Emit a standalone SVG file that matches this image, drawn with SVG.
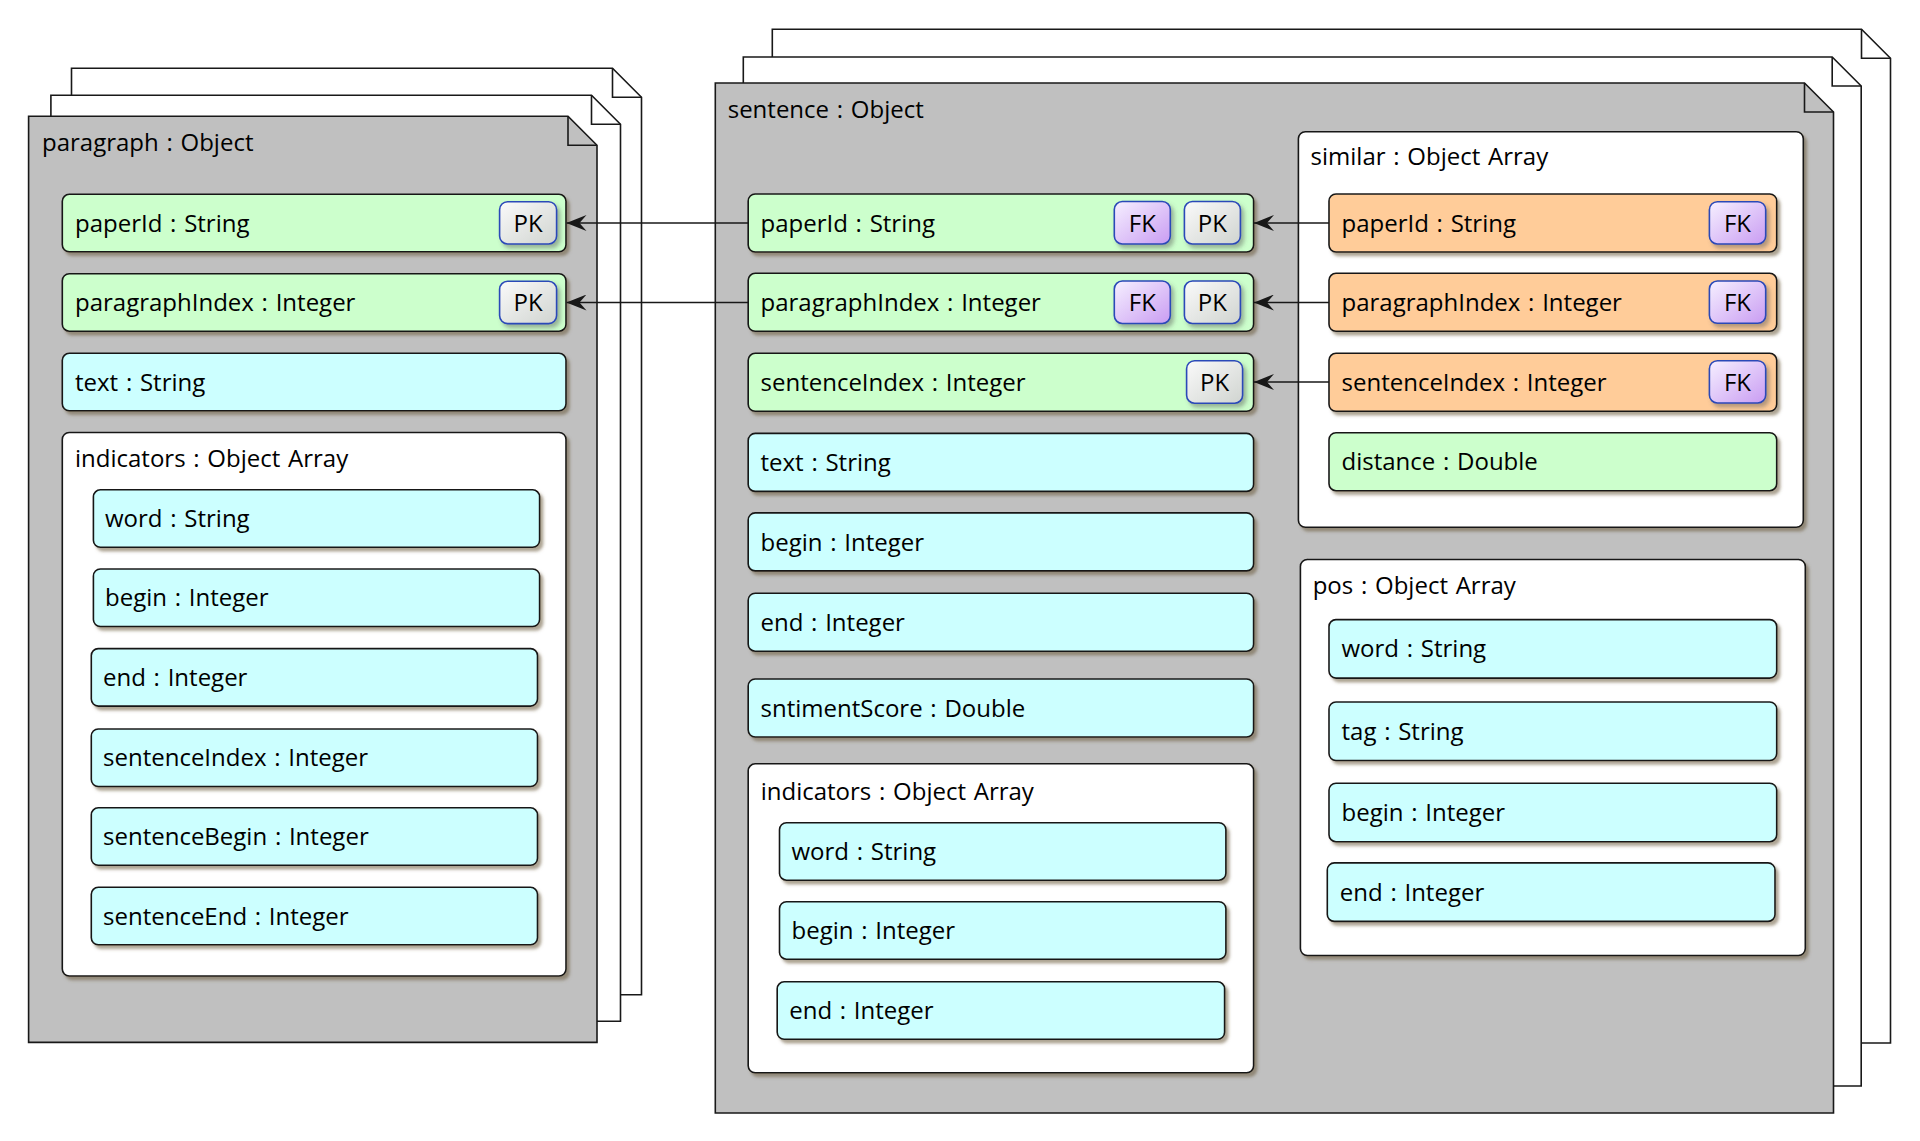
<svg xmlns="http://www.w3.org/2000/svg" width="1920" height="1141" viewBox="0 0 1920 1141">
<style>
.page{fill:#c0c0c0;stroke:#181818;stroke-width:1.6}
.back{fill:#ffffff;stroke:#181818;stroke-width:1.6}
.fold{fill:none;stroke:#181818;stroke-width:1.6}
.row{stroke:#181818;stroke-width:1.6;filter:url(#sh)}
.g{fill:#ccffcc}.c{fill:#ccffff}.o{fill:#ffcc99}.w{fill:#ffffff}
.pk{fill:url(#gpk);stroke:#2a48b8;stroke-width:1.6;filter:url(#sh2)}
.fk{fill:url(#gfk);stroke:#2a48b8;stroke-width:1.6;filter:url(#sh2)}
text{font-family:"Open Sans","DejaVu Sans",sans-serif;font-size:24px;word-spacing:1.5px;fill:#000}
.bt{text-anchor:middle;word-spacing:0}
.con{stroke:#181818;stroke-width:1.6;fill:none;marker-end:url(#ah)}
</style>
<defs>
<filter id="sh" x="-5%" y="-10%" width="115%" height="135%"><feDropShadow dx="3" dy="3.5" stdDeviation="1.4" flood-color="#6b5a3a" flood-opacity="0.55"/></filter>
<filter id="sh2" x="-20%" y="-20%" width="150%" height="160%"><feDropShadow dx="3" dy="3.5" stdDeviation="2" flood-color="#555555" flood-opacity="0.45"/></filter>
<linearGradient id="gpk" x1="0" y1="0" x2="1" y2="1"><stop offset="0" stop-color="#fafafa"/><stop offset="1" stop-color="#d0d4d0"/></linearGradient>
<linearGradient id="gfk" x1="0" y1="0" x2="1" y2="1"><stop offset="0" stop-color="#f6f0ff"/><stop offset="1" stop-color="#c99cf2"/></linearGradient>
<marker id="ah" viewBox="0 0 20 16" refX="20" refY="8" markerWidth="20" markerHeight="16" markerUnits="userSpaceOnUse" orient="auto"><path d="M0,0 L20,8 L0,16 L7,8 Z" fill="#181818"/></marker>
</defs>

<g id="paragraph">
<path class="back" d="M71.5,68.3 H612.5 L641.5,97.3 V994.7 H71.5 Z"/><path class="fold" d="M612.5,68.3 V97.3 H641.5"/>
<path class="back" d="M50.9,95.3 H591.5 L620.5,124.3 V1021.2 H50.9 Z"/><path class="fold" d="M591.5,95.3 V124.3 H620.5"/>
<path class="page" d="M28.6,116.3 H568 L597,145.3 V1042.4 H28.6 Z"/><path class="fold" d="M568,116.3 V145.3 H597"/>
<text x="42" y="150.5">paragraph : Object</text>
<g id="p-paperId"><rect class="row g" x="62.3" y="194.3" width="503.7" height="57.5" rx="7"/><text x="75" y="231.7">paperId : String</text>
<rect class="pk" x="499.6" y="201.7" width="57" height="42.3" rx="8"/><text class="bt" x="528.1" y="231.7">PK</text></g>
<g id="p-paragraphIndex"><rect class="row g" x="62.3" y="273.7" width="503.7" height="57.5" rx="7"/><text x="75" y="311.1">paragraphIndex : Integer</text>
<rect class="pk" x="499.6" y="281.3" width="57" height="42.3" rx="8"/><text class="bt" x="528.1" y="311.1">PK</text></g>
<g id="p-text"><rect class="row c" x="62.3" y="353.3" width="503.7" height="57.5" rx="7"/><text x="75" y="390.7">text : String</text></g>
<g id="p-indicators"><rect class="row w" x="62.3" y="432.5" width="503.7" height="543.5" rx="7"/><text x="75" y="467">indicators : Object Array</text>
<g id="p-i-word"><rect class="row c" x="93.4" y="489.8" width="446.2" height="57.5" rx="7"/><text x="105" y="527.2">word : String</text></g>
<g id="p-i-begin"><rect class="row c" x="93.4" y="569" width="446.2" height="57.5" rx="7"/><text x="105" y="606.4">begin : Integer</text></g>
<g id="p-i-end"><rect class="row c" x="91.3" y="648.6" width="446.2" height="57.5" rx="7"/><text x="103" y="686">end : Integer</text></g>
<g id="p-i-sentenceIndex"><rect class="row c" x="91.3" y="729" width="446.2" height="57.5" rx="7"/><text x="103" y="766.4">sentenceIndex : Integer</text></g>
<g id="p-i-sentenceBegin"><rect class="row c" x="91.3" y="807.8" width="446.2" height="57.5" rx="7"/><text x="103" y="845.2">sentenceBegin : Integer</text></g>
<g id="p-i-sentenceEnd"><rect class="row c" x="91.3" y="887.3" width="446.2" height="57.5" rx="7"/><text x="103" y="924.7">sentenceEnd : Integer</text></g>
</g>
</g>

<g id="sentence">
<path class="back" d="M772.3,29.3 H1861.5 L1890.5,58.3 V1043 H772.3 Z"/><path class="fold" d="M1861.5,29.3 V58.3 H1890.5"/>
<path class="back" d="M743.3,57 H1832.2 L1861.2,86 V1086 H743.3 Z"/><path class="fold" d="M1832.2,57 V86 H1861.2"/>
<path class="page" d="M715.3,83 H1804.5 L1833.5,112 V1113 H715.3 Z"/><path class="fold" d="M1804.5,83 V112 H1833.5"/>
<text x="727.7" y="117.5">sentence : Object</text>
<g id="s-paperId"><rect class="row g" x="748.2" y="194" width="505.4" height="58" rx="7"/><text x="760.5" y="231.7">paperId : String</text>
<rect class="fk" x="1114.3" y="201.5" width="56" height="42.5" rx="8"/><text class="bt" x="1142.3" y="231.7">FK</text>
<rect class="pk" x="1184.4" y="201.5" width="56" height="42.5" rx="8"/><text class="bt" x="1212.4" y="231.7">PK</text></g>
<g id="s-paragraphIndex"><rect class="row g" x="748.2" y="273.3" width="505.4" height="58" rx="7"/><text x="760.5" y="311">paragraphIndex : Integer</text>
<rect class="fk" x="1114.3" y="281" width="56" height="42.5" rx="8"/><text class="bt" x="1142.3" y="311">FK</text>
<rect class="pk" x="1184.4" y="281" width="56" height="42.5" rx="8"/><text class="bt" x="1212.4" y="311">PK</text></g>
<g id="s-sentenceIndex"><rect class="row g" x="748.2" y="353.3" width="505.4" height="58" rx="7"/><text x="760.5" y="391">sentenceIndex : Integer</text>
<rect class="pk" x="1186.6" y="360.7" width="56" height="42.5" rx="8"/><text class="bt" x="1214.6" y="391">PK</text></g>
<g id="s-text"><rect class="row c" x="748.2" y="433.4" width="505.4" height="58" rx="7"/><text x="760.5" y="471">text : String</text></g>
<g id="s-begin"><rect class="row c" x="748.2" y="512.9" width="505.4" height="58" rx="7"/><text x="760.5" y="550.5">begin : Integer</text></g>
<g id="s-end"><rect class="row c" x="748.2" y="593.2" width="505.4" height="58" rx="7"/><text x="760.5" y="630.8">end : Integer</text></g>
<g id="s-sntimentScore"><rect class="row c" x="748.2" y="679" width="505.4" height="58" rx="7"/><text x="760.5" y="716.6">sntimentScore : Double</text></g>
<g id="s-indicators"><rect class="row w" x="748.2" y="763.8" width="505.4" height="309" rx="7"/><text x="760.7" y="799.5">indicators : Object Array</text>
<g id="s-i-word"><rect class="row c" x="779.5" y="822.7" width="446.4" height="57.5" rx="7"/><text x="791.5" y="860.1">word : String</text></g>
<g id="s-i-begin"><rect class="row c" x="779.5" y="901.7" width="446.4" height="57.5" rx="7"/><text x="791.5" y="939.1">begin : Integer</text></g>
<g id="s-i-end"><rect class="row c" x="777.2" y="981.8" width="447.4" height="57.5" rx="7"/><text x="789.2" y="1019.2">end : Integer</text></g>
</g>
<g id="s-similar"><rect class="row w" x="1298.4" y="131.7" width="504.9" height="395.6" rx="7"/><text x="1310.6" y="165">similar : Object Array</text>
<g id="sim-paperId"><rect class="row o" x="1329" y="194" width="447.7" height="58" rx="7"/><text x="1341.5" y="231.7">paperId : String</text>
<rect class="fk" x="1709.4" y="201.7" width="56.3" height="42.3" rx="8"/><text class="bt" x="1737.5" y="231.7">FK</text></g>
<g id="sim-paragraphIndex"><rect class="row o" x="1329" y="273.3" width="447.7" height="58" rx="7"/><text x="1341.5" y="311">paragraphIndex : Integer</text>
<rect class="fk" x="1709.4" y="281" width="56.3" height="42.3" rx="8"/><text class="bt" x="1737.5" y="311">FK</text></g>
<g id="sim-sentenceIndex"><rect class="row o" x="1329" y="353.3" width="447.7" height="58" rx="7"/><text x="1341.5" y="391">sentenceIndex : Integer</text>
<rect class="fk" x="1709.4" y="360.7" width="56.3" height="42.3" rx="8"/><text class="bt" x="1737.5" y="391">FK</text></g>
<g id="sim-distance"><rect class="row g" x="1329" y="432.7" width="447.7" height="58" rx="7"/><text x="1341.5" y="470.4">distance : Double</text></g>
</g>
<g id="s-pos"><rect class="row w" x="1300.4" y="559.5" width="504.9" height="396" rx="7"/><text x="1312.7" y="593.6">pos : Object Array</text>
<g id="pos-word"><rect class="row c" x="1329" y="619.6" width="447.7" height="58.5" rx="7"/><text x="1341.5" y="657.4">word : String</text></g>
<g id="pos-tag"><rect class="row c" x="1329" y="702" width="447.7" height="58.5" rx="7"/><text x="1341.5" y="739.8">tag : String</text></g>
<g id="pos-begin"><rect class="row c" x="1329" y="783.2" width="447.7" height="58.5" rx="7"/><text x="1341.5" y="821">begin : Integer</text></g>
<g id="pos-end"><rect class="row c" x="1327.3" y="862.9" width="447.7" height="58.5" rx="7"/><text x="1339.8" y="900.7">end : Integer</text></g>
</g>
</g>

<g id="connectors">
<path class="con" d="M748.2,223 H566.5"/>
<path class="con" d="M748.2,302.5 H566.5"/>
<path class="con" d="M1329,223 H1254"/>
<path class="con" d="M1329,302.5 H1254"/>
<path class="con" d="M1329,382 H1254"/>
</g>
</svg>
